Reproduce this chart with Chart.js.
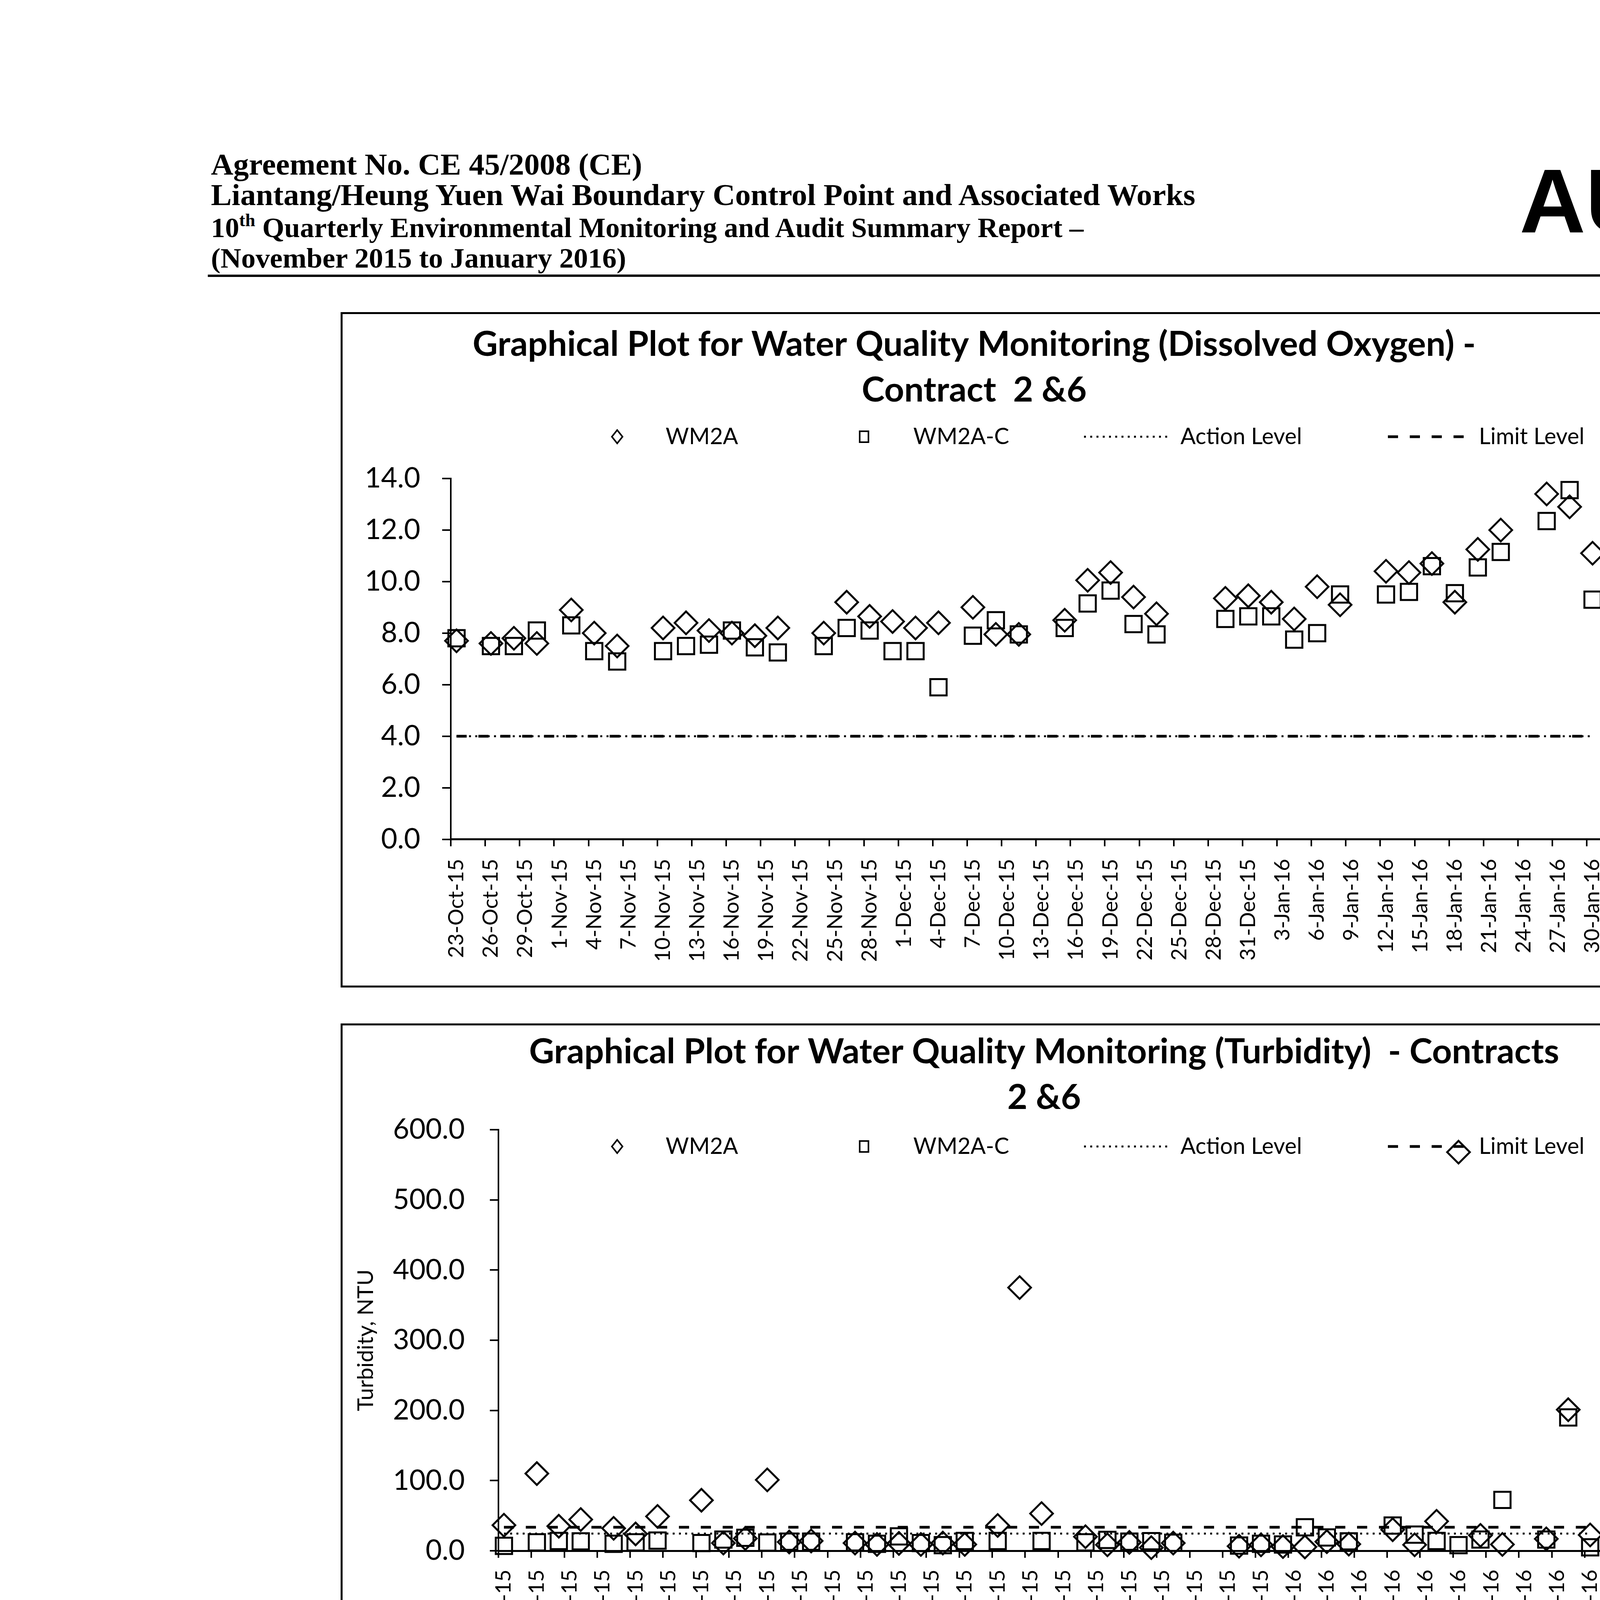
<!DOCTYPE html>
<html>
<head>
<meta charset="utf-8">
<script src="https://cdn.jsdelivr.net/npm/chart.js@4.4.1/dist/chart.umd.min.js"></script>
<style>
html,body{margin:0;padding:0;background:#fff;}
body{width:4956px;height:7009px;position:relative;overflow:hidden;}
canvas{position:absolute;}
.frame{position:absolute;border:5px solid #000;box-sizing:border-box;pointer-events:none;}
svg{position:absolute;left:0;top:0;}
</style>
</head>
<body>
<svg width="4956" height="7009">
  <g font-family="'Liberation Serif','Times New Roman',serif" font-weight="bold" fill="#000">
    <text x="540" y="447" font-size="79" textLength="1104" lengthAdjust="spacingAndGlyphs">Agreement No. CE 45/2008 (CE)</text>
    <text x="540" y="525" font-size="79" textLength="2520" lengthAdjust="spacingAndGlyphs">Liantang/Heung Yuen Wai Boundary Control Point and Associated Works</text>
    <text x="540" y="607" font-size="72" textLength="2234" lengthAdjust="spacingAndGlyphs">10<tspan dy="-28" font-size="46">th</tspan><tspan dy="28"> Quarterly Environmental Monitoring and Audit Summary Report –</tspan></text>
    <text x="540" y="685" font-size="72" textLength="1063" lengthAdjust="spacingAndGlyphs">(November 2015 to January 2016)</text>
  </g>
  <line x1="532" y1="706" x2="4578" y2="705" stroke="#000" stroke-width="6"/>
  <text x="3890" y="595" font-family="'Liberation Sans',Arial,sans-serif" font-weight="bold" font-size="232" textLength="650" lengthAdjust="spacingAndGlyphs" fill="#000">AU<tspan fill="#808080">E</tspan>S</text>
  <line x1="636" y1="6694" x2="4580" y2="6688" stroke="#000" stroke-width="5"/>
  <text x="664" y="6758" font-family="'Liberation Serif','Times New Roman',serif" font-size="56" textLength="2212" lengthAdjust="spacingAndGlyphs" fill="#000">Z:\Jobs\2013\TCS00694\600\EM&amp;A Report\Quarterly EM&amp;A Report\10th Quarter\R0141v2.docx</text>
</svg>

<canvas id="c1" width="3451" height="1729" style="left:872px;top:799px;width:3451px;height:1729px"></canvas>
<div class="frame" style="left:872px;top:799px;width:3451px;height:1729px"></div>
<canvas id="c2" width="3451" height="1695" style="left:872px;top:2620px;width:3451px;height:1695px"></canvas>
<div class="frame" style="left:872px;top:2620px;width:3451px;height:1695px"></div>
<canvas id="c3" width="3451" height="1695" style="left:872px;top:4408px;width:3451px;height:1695px"></canvas>
<div class="frame" style="left:872px;top:4408px;width:3451px;height:1695px"></div>

<script>
// ---------------- DATA ----------------
const xTickLabels = ['23-Oct-15','26-Oct-15','29-Oct-15','1-Nov-15','4-Nov-15','7-Nov-15','10-Nov-15','13-Nov-15','16-Nov-15','19-Nov-15','22-Nov-15','25-Nov-15','28-Nov-15','1-Dec-15','4-Dec-15','7-Dec-15','10-Dec-15','13-Dec-15','16-Dec-15','19-Dec-15','22-Dec-15','25-Dec-15','28-Dec-15','31-Dec-15','3-Jan-16','6-Jan-16','9-Jan-16','12-Jan-16','15-Jan-16','18-Jan-16','21-Jan-16','24-Jan-16','27-Jan-16','30-Jan-16'];

const sampleDates = ['23-Oct-15','26-Oct-15','28-Oct-15','30-Oct-15','2-Nov-15','4-Nov-15','6-Nov-15','10-Nov-15','12-Nov-15','14-Nov-15','16-Nov-15','18-Nov-15','20-Nov-15','24-Nov-15','26-Nov-15','28-Nov-15','30-Nov-15','2-Dec-15','4-Dec-15','7-Dec-15','9-Dec-15','11-Dec-15','15-Dec-15','17-Dec-15','19-Dec-15','21-Dec-15','23-Dec-15','29-Dec-15','31-Dec-15','2-Jan-16','4-Jan-16','6-Jan-16','8-Jan-16','12-Jan-16','14-Jan-16','16-Jan-16','18-Jan-16','20-Jan-16','22-Jan-16','26-Jan-16','28-Jan-16','30-Jan-16'];

const doWM2A  = [7.7,7.6,7.8,7.6,8.9,8.0,7.5,8.2,8.4,8.1,8.0,7.9,8.2,8.0,9.2,8.65,8.45,8.2,8.4,9.0,7.95,7.95,8.5,10.05,10.35,9.4,8.75,9.35,9.45,9.2,8.55,9.8,9.1,10.4,10.35,10.7,9.2,11.25,12.0,13.4,12.9,11.1];
const doWM2AC = [7.8,7.5,7.5,8.1,8.3,7.3,6.9,7.3,7.5,7.55,8.1,7.45,7.25,7.5,8.2,8.1,7.3,7.3,5.9,7.9,8.5,7.95,8.2,9.15,9.65,8.35,7.95,8.55,8.65,8.65,7.75,8.0,9.5,9.5,9.6,10.6,9.55,10.55,11.15,12.35,13.55,9.3];
const doAction = 4.0;
const doLimit  = 4.0;

const turbWM2A  = [36.5,110,35,44.5,32,24,49,72,11,17.5,101,12.5,14,11,9,10.5,9,11,9,36,375,53,20,8.5,12,4.5,11,6.5,8.5,6,5.5,13,9.5,30,8.5,42,568,22,9,17,201,22.5];
const turbWM2AC = [7,12,14,13.5,10,12,14.5,11,16,18.5,11.7,13,13,12,10,20.5,11,8,14,14,null,14,12,15.5,13,13.7,11.5,7.5,10,9,33.5,19,13.5,36,23,14,8,16,72.5,16,190,5];
const turbAction = 24.5;
const turbLimit  = 33.5;

const ssWM2A  = [27.5,73.5,29,41,25,14,28.5,59,8,9,72.5,10.5,9,7,7,5,10,7,7,60,300,22,9,6,10,1,3,1,5,0.5,4,4.6,4.6,2.8,3,20,230,4.6,3,5,150,12];
const ssWM2AC = [2,9,3,3,3,2.5,8,5,6,7,7,5,5,5,6,10,6,5,5.8,7.6,460,7,4,6.5,4,5,3,4,4,4,21,3.7,1.5,3.7,13.5,6.5,4.3,10,31.5,4,148,1];
const ssAction = 15.5;
const ssLimit  = 19;

// ---------------- helpers ----------------
const MONTHS = {Jan:0,Feb:1,Mar:2,Apr:3,May:4,Jun:5,Jul:6,Aug:7,Sep:8,Oct:9,Nov:10,Dec:11};
function toDay(s){ const p = s.split('-'); return Date.UTC(2000 + Number(p[2]), MONTHS[p[1]], Number(p[0])) / 86400000; }
const DAY0 = toDay(xTickLabels[0]);
const xOf = s => toDay(s) - DAY0;
const xTickValues = xTickLabels.map(l => xOf(l) - 0.5);
const X_MIN = -0.5;
const X_MAX = xOf(xTickLabels[xTickLabels.length - 1]) + 1.5;

function pts(values){
  const out = [];
  sampleDates.forEach((d, i) => { if (values[i] !== null && values[i] !== undefined) out.push({x: xOf(d), y: values[i]}); });
  return out;
}
function levelLine(v){
  return [{x: xOf(sampleDates[0]), y: v}, {x: xOf(sampleDates[sampleDates.length - 1]), y: v}];
}

const FAM = 'Lato, "Open Sans", sans-serif';
const measCtx = document.createElement('canvas').getContext('2d');
function fitSize(text, width, weight){
  measCtx.font = (weight || 'normal') + ' 100px ' + FAM;
  return 100 * width / measCtx.measureText(text).width;
}
const TITLE_SIZE  = fitSize('Graphical Plot for Water Quality Monitoring (Dissolved Oxygen) -', 2568, 'bold');
const LEGEND_SIZE = fitSize('Action Level', 311);
const DATE_SIZE   = fitSize('Date', 145);
const YTICK_SIZE  = fitSize('600.0', 184);
const XTICK_SIZE  = fitSize('23-Oct-15', 254);
const YTITLE_SIZE = fitSize('Turbidity, NTU', 363);

// ---------------- decoration plugin (titles, legend, "Date") ----------------
const decor = {
  id: 'decor',
  afterDraw(chart, args, o) {
    const ctx = chart.ctx;
    ctx.save();
    ctx.fillStyle = '#000';
    ctx.strokeStyle = '#000';
    ctx.textBaseline = 'middle';
    ctx.textAlign = 'center';
    ctx.font = 'bold ' + TITLE_SIZE + 'px ' + FAM;
    o.titles.forEach((t, i) => ctx.fillText(t, o.titleX, o.titleY[i]));
    ctx.font = LEGEND_SIZE + 'px ' + FAM;
    ctx.textAlign = 'left';
    const ly = o.legendY;
    chart.data.datasets.forEach((ds, i) => {
      const it = o.legend[i];
      ctx.setLineDash([]);
      if (ds.showLine) {
        ctx.lineWidth = ds.borderWidth;
        ctx.setLineDash(ds.borderDash || []);
        ctx.beginPath(); ctx.moveTo(it.x1, ly); ctx.lineTo(it.x2, ly); ctx.stroke();
        ctx.setLineDash([]);
      } else {
        ctx.lineWidth = 4;
        ctx.beginPath();
        if (ds.pointStyle === 'rectRot') {
          const r = 17;
          ctx.moveTo(it.x1 - r * 0.8, ly); ctx.lineTo(it.x1, ly - r); ctx.lineTo(it.x1 + r * 0.8, ly); ctx.lineTo(it.x1, ly + r); ctx.closePath();
        } else {
          const s = 14;
          ctx.rect(it.x1 - s * 0.8, ly - s, s * 1.6, s * 2);
        }
        ctx.stroke();
      }
      ctx.fillText(ds.label, it.tx, ly);
    });
    ctx.font = DATE_SIZE + 'px ' + FAM;
    ctx.fillText('Date', o.dateX, o.dateY);
    ctx.restore();
  }
};

const LEGEND_POS = [
  {x1: 708, tx: 832},
  {x1: 1340, tx: 1466},
  {x1: 1903, x2: 2118, tx: 2150},
  {x1: 2681, x2: 2878, tx: 2914}
];

const CHARTS = [
  {id: 'c1', w: 3451, h: 1729, left: 282, top: 426, right: 3249, bottom: 1349.5, yMax: 14, yStep: 2, yPad: 56, xPad: 32,
   titles: ['Graphical Plot for Water Quality Monitoring (Dissolved Oxygen) -', 'Contract  2 &6'], titleX: 1622, titleY: [83, 200],
   legendY: 319, dateX: 3271, dateY: 1322, yTitle: '', yTitleX: 0,
   a: doWM2A, b: doWM2AC, action: doAction, limit: doLimit},
  {id: 'c2', w: 3451, h: 1695, left: 404, top: 272, right: 3241, bottom: 1350, yMax: 600, yStep: 100, yPad: 64, xPad: 30,
   titles: ['Graphical Plot for Water Quality Monitoring (Turbidity)  - Contracts', '2 &6'], titleX: 1801, titleY: [73, 190],
   legendY: 315, dateX: 3272, dateY: 1298, yTitle: 'Turbidity, NTU', yTitleX: 65,
   a: turbWM2A, b: turbWM2AC, action: turbAction, limit: turbLimit},
  {id: 'c3', w: 3451, h: 1695, left: 381, top: 235.5, right: 3262, bottom: 1314, yMax: 600, yStep: 100, yPad: 75, xPad: 26,
   titles: ['Graphical Plot for Water Quality Monitoring (Suspended Solids) -', 'Contracts 2 &6'], titleX: 1712, titleY: [145, 261],
   legendY: 389, dateX: 3282, dateY: 1295, yTitle: 'SS, mg/L', yTitleX: 53,
   a: ssWM2A, b: ssWM2AC, action: ssAction, limit: ssLimit}
];

CHARTS.forEach(L => {
  const pxPerDay = (L.right - L.left) / (X_MAX - X_MIN);
  const yTitleLH = YTITLE_SIZE * 1.2;
  new Chart(document.getElementById(L.id), {
    type: 'scatter',
    data: {
      datasets: [
        {label: 'WM2A', data: pts(L.a), pointStyle: 'rectRot', pointRadius: 29, pointHoverRadius: 29,
         borderColor: '#000', backgroundColor: 'rgba(0,0,0,0)', pointBorderWidth: 5, borderWidth: 5, clip: false},
        {label: 'WM2A-C', data: pts(L.b), pointStyle: 'rect', pointRadius: 29.5, pointHoverRadius: 29.5,
         borderColor: '#000', backgroundColor: 'rgba(0,0,0,0)', pointBorderWidth: 5, borderWidth: 5, clip: false},
        {label: 'Action Level', data: levelLine(L.action), showLine: true, pointRadius: 0, borderColor: '#000',
         borderWidth: 5, borderDash: [5, 11], borderCapStyle: 'butt', clip: false},
        {label: 'Limit Level', data: levelLine(L.limit), showLine: true, pointRadius: 0, borderColor: '#000',
         borderWidth: 7, borderDash: [26, 30], borderCapStyle: 'butt', clip: false}
      ]
    },
    options: {
      responsive: false, animation: false, devicePixelRatio: 1, events: [],
      layout: {padding: {left: 0, top: L.top, right: L.w - L.right, bottom: 0}},
      plugins: {
        legend: {display: false}, title: {display: false}, tooltip: {enabled: false},
        decor: {titles: L.titles, titleX: L.titleX, titleY: L.titleY, legendY: L.legendY, legend: LEGEND_POS, dateX: L.dateX, dateY: L.dateY}
      },
      scales: {
        x: {
          type: 'linear', min: X_MIN, max: X_MAX,
          afterBuildTicks: ax => { ax.ticks = xTickValues.map(v => ({value: v})); },
          afterFit: s => { s.height = L.h - L.bottom; },
          ticks: {autoSkip: false, minRotation: 90, maxRotation: 90, padding: L.xPad, labelOffset: pxPerDay * 0.5,
                  color: '#000', font: {family: FAM, size: XTICK_SIZE}, callback: (v, i) => xTickLabels[i]},
          grid: {display: true, drawOnChartArea: false, drawTicks: true, tickLength: 18, color: '#000', lineWidth: 4},
          border: {display: true, color: '#000', width: 5}
        },
        y: {
          type: 'linear', min: 0, max: L.yMax,
          afterFit: s => { s.width = L.left; },
          ticks: {stepSize: L.yStep, padding: L.yPad, color: '#000', font: {family: FAM, size: YTICK_SIZE},
                  callback: v => Number(v).toFixed(1)},
          grid: {display: true, drawOnChartArea: false, drawTicks: true, tickLength: 22, color: '#000', lineWidth: 4},
          border: {display: true, color: '#000', width: 4},
          title: {display: !!L.yTitle, text: L.yTitle, color: '#000', font: {family: FAM, size: YTITLE_SIZE},
                  padding: {top: Math.max(0, L.yTitleX - yTitleLH / 2), bottom: 0}}
        }
      }
    },
    plugins: [decor]
  });
});
</script>
</body>
</html>
